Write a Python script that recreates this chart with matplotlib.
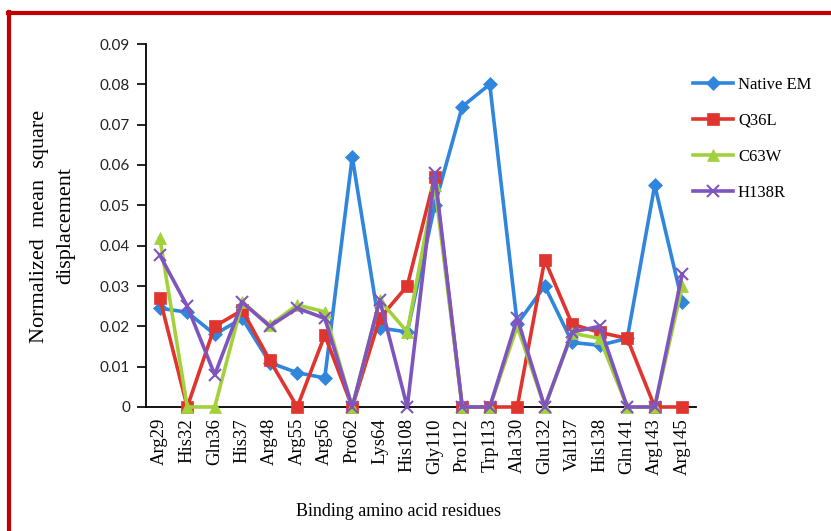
import numpy as np
import matplotlib
matplotlib.use("Agg")
import matplotlib.pyplot as plt
from matplotlib.lines import Line2D

# data
residues = ["Arg29", "His32", "Gln36", "His37", "Arg48", "Arg55", "Arg56", "Pro62",
            "Lys64", "His108", "Gly110", "Pro112", "Trp113", "Ala130", "Glu132",
            "Val137", "His138", "Gln141", "Arg143", "Arg145"]
native_em = [0.0245, 0.0235, 0.018, 0.022, 0.011, 0.0085, 0.0072, 0.062,
             0.0196, 0.0186, 0.050, 0.0745, 0.080, 0.0206, 0.030,
             0.016, 0.0153, 0.017, 0.055, 0.026]
q36l = [0.027, 0.0, 0.020, 0.024, 0.0116, 0.0, 0.0178, 0.0,
        0.022, 0.030, 0.057, 0.0, 0.0, 0.0, 0.0365,
        0.0205, 0.0185, 0.017, 0.0, 0.0]
c63w = [0.042, 0.0, 0.0, 0.026, 0.0203, 0.0253, 0.0236, 0.0,
        0.0265, 0.0186, 0.055, 0.0, 0.0, 0.020, 0.0,
        0.0183, 0.017, 0.0, 0.0, 0.030]
h138r = [0.0377, 0.025, 0.008, 0.026, 0.020, 0.0245, 0.022, 0.0,
         0.0265, 0.0, 0.058, 0.0, 0.0, 0.022, 0.0,
         0.0186, 0.020, 0.0, 0.0, 0.033]

serif = "Liberation Serif"

fig = plt.figure(figsize=(8.31, 5.31), dpi=100)
ax = fig.add_axes([146/831, 1-407/531, (696-146)/831, (407-44)/531])

x = np.arange(len(residues))
series = [
    ("Native EM", native_em, "#2f86dc", "D", 7.5),
    ("Q36L", q36l, "#e0352f", "s", 8.5),
    ("C63W", c63w, "#a3d13a", "^", 8.5),
    ("H138R", h138r, "#7e55bd", "x", 8.5),
]
for name, vals, col, mk, ms in series:
    ax.plot(x, vals, color=col, lw=2.6, marker=mk, markersize=ms,
            markeredgewidth=1.5 if mk == "x" else 0.5, markeredgecolor=col,
            label=name, clip_on=False, zorder=3)

ax.set_xlim(-0.5, len(x) - 0.5)
ax.set_ylim(0, 0.09)
ax.set_yticks(np.arange(0, 0.091, 0.01))
ax.set_yticklabels(["0"] + ["%.2f" % v for v in np.arange(0.01, 0.091, 0.01)],
                   fontsize=11, family="Lato", color="#222222")
ax.set_xticks(x)
ax.set_xticklabels(residues, rotation=90, fontsize=13.5, family=serif)
ax.tick_params(axis="x", length=0, pad=8)
ax.tick_params(axis="y", length=6.5, width=1.2, direction="out", pad=5)
for s in ["top", "right"]:
    ax.spines[s].set_visible(False)
ax.spines["left"].set_linewidth(1.3)
ax.spines["bottom"].set_linewidth(1.3)

fig.text(53/831, 1-226/531, "Normalized  mean  square\ndisplacement", rotation=90,
         ha="center", va="center", fontsize=16, family=serif, linespacing=1.5,
         multialignment="center")
fig.text(399/831, 1-512/531, "Binding amino acid residues", ha="center",
         va="center", fontsize=13, family=serif)

fig.legend(loc="upper left", bbox_to_anchor=(678/831, 1-62/531), frameon=False,
           prop={"family": serif, "size": 12}, handlelength=2.4,
           labelspacing=1.2, handletextpad=0.3)

# red frame around the figure
fig.add_artist(Line2D([9/831, 9/831], [0, 1-12/531], color="#c00000", lw=3,
                      transform=fig.transFigure))
fig.add_artist(Line2D([8/831, 1], [1-13/531, 1-13/531], color="#c00000", lw=3,
                      transform=fig.transFigure))

fig.savefig("out.png", dpi=100)
